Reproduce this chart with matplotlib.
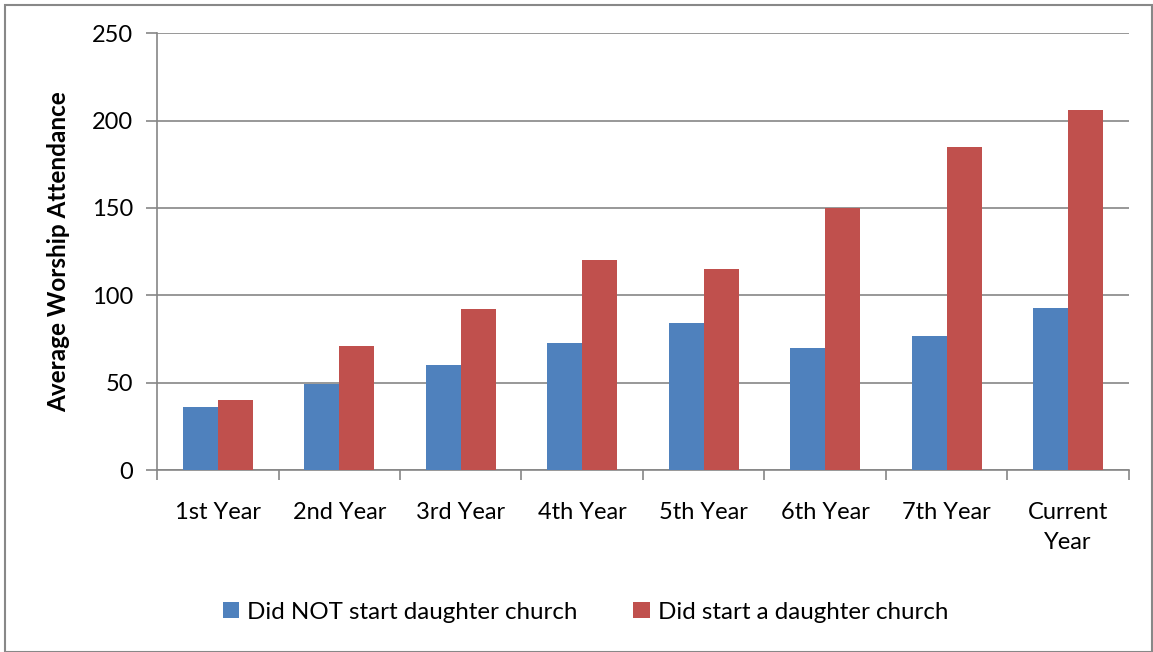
import numpy as np
import matplotlib.pyplot as plt
from matplotlib.patches import Rectangle

categories = ['1st Year', '2nd Year', '3rd Year', '4th Year', '5th Year',
              '6th Year', '7th Year', 'Current\nYear']
not_started = [36, 49, 60, 73, 84, 70, 77, 93]
started = [40, 71, 92, 120, 115, 150, 185, 206]

plt.rcParams['font.family'] = ['Lato', 'DejaVu Sans']

blue = '#4F81BD'
red = '#C0504D'
grid = '#868686'

fig = plt.figure(figsize=(11.53, 6.52), dpi=100)
ax = fig.add_axes([0.1362, 0.279, 0.979 - 0.1362, 0.670])

x = np.arange(len(categories))
w = 0.288
ax.bar(x - w / 2, not_started, width=w, color=blue, label='Did NOT start daughter church', zorder=3)
ax.bar(x + w / 2, started, width=w, color=red, label='Did start a daughter church', zorder=3)

ax.set_xlim(-0.5, len(categories) - 0.5)
ax.set_ylim(0, 250)
ax.set_yticks(range(0, 251, 50))
ax.yaxis.grid(True, color=grid, linewidth=1.2, zorder=0)
ax.tick_params(axis='y', length=8, width=1.2, color=grid, labelsize=17, pad=9)

# category labels centred, ticks at category boundaries
ax.set_xticks(x)
ax.set_xticklabels(categories, fontsize=17, linespacing=1.5)
ax.tick_params(axis='x', length=0, pad=23)
ax.set_xticks(np.arange(-0.5, len(categories)), minor=True)
ax.tick_params(axis='x', which='minor', length=7, width=1.2, color=grid)

for s in ['top', 'right']:
    ax.spines[s].set_visible(False)
ax.spines['left'].set_color(grid)
ax.spines['bottom'].set_color(grid)
ax.spines['left'].set_linewidth(1.2)
ax.spines['bottom'].set_linewidth(1.2)

ax.set_ylabel('Average Worship Attendance', fontsize=17.5, fontweight='bold', labelpad=16)

ax.legend(loc='center', bbox_to_anchor=(0.441, -0.325), ncol=2, frameon=False,
          fontsize=17.4, handlelength=0.68, handleheight=0.68, handletextpad=0.35,
          columnspacing=2.3)

fig.patches.append(Rectangle((0.004, 0.0), 0.995, 0.993, transform=fig.transFigure,
                             fill=False, edgecolor='#888888', linewidth=1.5))

fig.savefig('out.png', dpi=100)
